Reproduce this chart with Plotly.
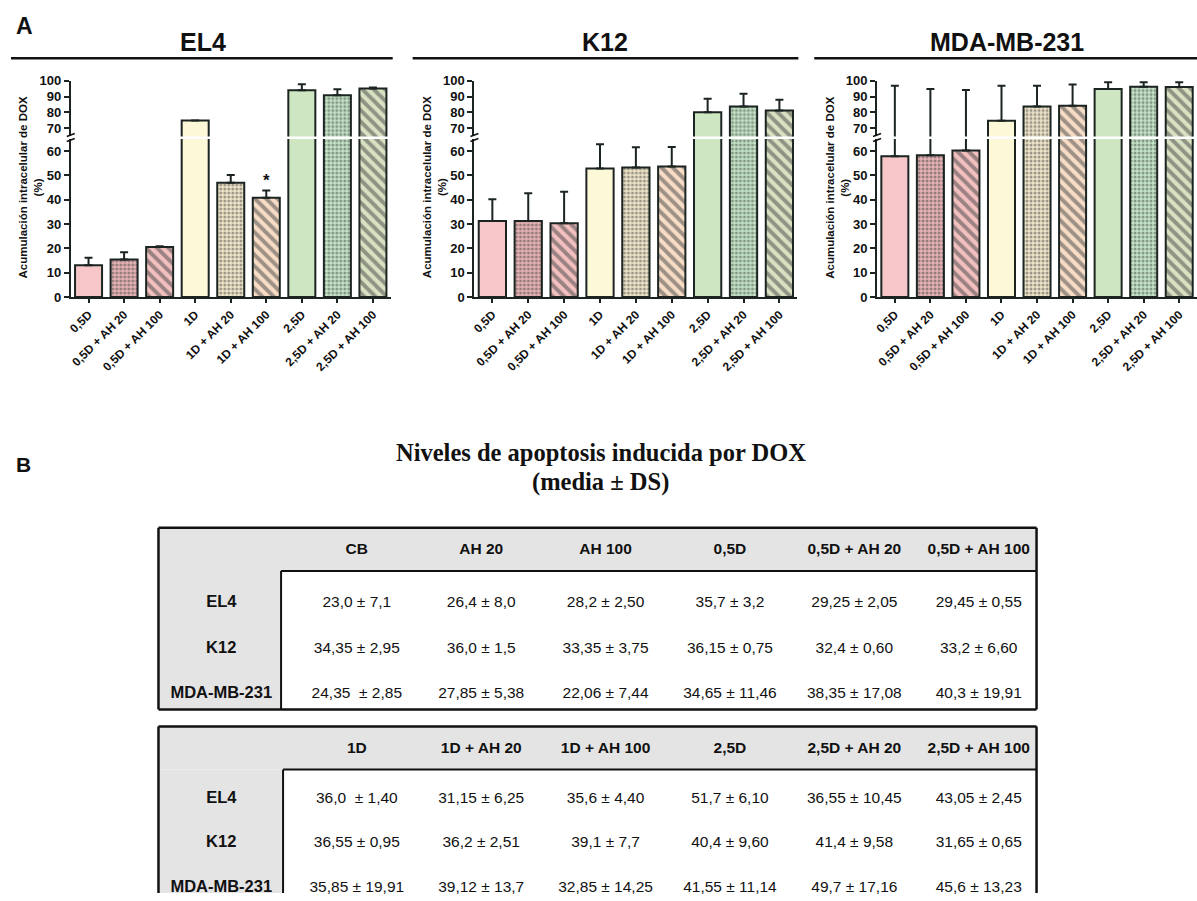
import plotly.graph_objects as go

W, H = 1197, 901
# empirical vertical calibration of the rendered page (target px -> page px)
V_SCALE, V_OFF = 0.98, 8.0


def clip01(v):
    return min(1.0, max(0.0, v))


def fx(px):
    return px / W


def fy(py):
    return 1 - ((py - V_OFF) / V_SCALE) / H


PY_MAX = V_OFF + V_SCALE * H  # lowest drawable target pixel

# ---------------- data (panel A) ----------------
categories = ["0,5D", "0,5D + AH 20", "0,5D + AH 100", "1D", "1D + AH 20",
              "1D + AH 100", "2,5D", "2,5D + AH 20", "2,5D + AH 100"]
el4_mean = [13.1, 15.4, 20.6, 75.0, 47.0, 40.8, 93.9, 90.8, 95.0]
el4_sd = [3.0, 3.0, 0.3, 0.0, 3.2, 3.0, 3.8, 3.7, 0.6]
k12_mean = [31.3, 31.3, 30.3, 52.8, 53.3, 53.7, 80.2, 83.7, 81.2]
k12_sd = [8.9, 11.4, 13.0, 10.0, 8.3, 8.0, 8.4, 8.1, 6.8]
mda_mean = [57.9, 58.3, 60.2, 74.8, 83.7, 84.2, 94.7, 96.1, 96.0]
mda_sd = [38.9, 36.4, 33.9, 22.0, 13.1, 13.3, 4.2, 2.8, 2.9]
panel_names = ["EL4", "K12", "MDA-MB-231"]
lower_ticks = [0, 10, 20, 30, 40, 50, 60]
upper_ticks = [70, 80, 90, 100]

# ---------------- data (panel B) ----------------
cell_lines = ["EL4", "K12", "MDA-MB-231"]
t1_headers = ["CB", "AH 20", "AH 100", "0,5D", "0,5D + AH 20", "0,5D + AH 100"]
t1_cb = ["23,0 ± 7,1", "34,35 ± 2,95", "24,35  ± 2,85"]
t1_ah20 = ["26,4 ± 8,0", "36,0 ± 1,5", "27,85 ± 5,38"]
t1_ah100 = ["28,2 ± 2,50", "33,35 ± 3,75", "22,06 ± 7,44"]
t1_05d = ["35,7 ± 3,2", "36,15 ± 0,75", "34,65 ± 11,46"]
t1_05d_ah20 = ["29,25 ± 2,05", "32,4 ± 0,60", "38,35 ± 17,08"]
t1_05d_ah100 = ["29,45 ± 0,55", "33,2 ± 6,60", "40,3 ± 19,91"]
t2_headers = ["1D", "1D + AH 20", "1D + AH 100", "2,5D", "2,5D + AH 20", "2,5D + AH 100"]
t2_1d = ["36,0  ± 1,40", "36,55 ± 0,95", "35,85 ± 19,91"]
t2_1d_ah20 = ["31,15 ± 6,25", "36,2 ± 2,51", "39,12 ± 13,7"]
t2_1d_ah100 = ["35,6 ± 4,40", "39,1 ± 7,7", "32,85 ± 14,25"]
t2_25d = ["51,7 ± 6,10", "40,4 ± 9,60", "41,55 ± 11,14"]
t2_25d_ah20 = ["36,55 ± 10,45", "41,4 ± 9,58", "49,7 ± 17,16"]
t2_25d_ah100 = ["43,05 ± 2,45", "31,65 ± 0,65", "45,6 ± 13,23"]

# ---------------- styles ----------------
FONT = "Liberation Sans"
DARK = "#1b2421"
TXT = "#111111"
bar_fill = ["#f6c6c8", "#e6b2b4", "#f3c0c0", "#fcf8d8", "#efe5c8",
            "#f7dcc6", "#cfe6c2", "#c4e4c6", "#d8e2c2"]
pat_shape = ["", ".", "\\", "", ".", "\\", "", ".", "\\"]
pat_fg = ["#f6c6c8", "#a0646e", "#2a1010", "#fcf8d8", "#8aa898",
          "#111111", "#cfe6c2", "#2a957c", "#14302a"]
pat_size = [4, 4, 8, 4, 4, 8, 4, 4, 8]
pat_sol = [0.3, 0.45, 0.48, 0.3, 0.45, 0.48, 0.3, 0.45, 0.48]

panels = [
    dict(mean=el4_mean, sd=el4_sd, x0=67, x1=388, line=(7, 390), tx=200, ytx=27),
    dict(mean=k12_mean, sd=k12_sd, x0=472, x1=796, line=(410, 797), tx=603, ytx=432),
    dict(mean=mda_mean, sd=mda_sd, x0=876, x1=1197, line=(813, 1197), tx=1006, ytx=836),
]

low_dom = [fy(297), fy(139.5)]
up_dom = [fy(137), fy(81.3)]

fig = go.Figure()
layout = {}
annotations = []
shapes = []


def ann(text, x, y, size, family=FONT, angle=0, bold=True, xanchor="center"):
    annotations.append(dict(text=text, x=x, y=y, xref="paper", yref="paper",
                            xanchor=xanchor, yanchor="middle", showarrow=False,
                            textangle=angle,
                            font=dict(family=family, size=size, color=TXT,
                                      weight="bold" if bold else "normal")))


def pline(x0, y0, x1, y1, w=2.5):
    shapes.append(dict(type="line", xref="paper", yref="paper",
                       x0=clip01(fx(x0)), y0=clip01(fy(y0)),
                       x1=clip01(fx(x1)), y1=clip01(fy(y1)),
                       line=dict(color=TXT, width=w)))


for i, p in enumerate(panels):
    lo = i + 1
    up = i + 4
    for ax_idx, yrange, ydom, ticks in [(lo, [0, 65], low_dom, lower_ticks),
                                         (up, [65, 100], up_dom, upper_ticks)]:
        xname = "x" if ax_idx == 1 else f"x{ax_idx}"
        yname = "y" if ax_idx == 1 else f"y{ax_idx}"
        fig.add_trace(go.Bar(
            x=list(range(len(categories))), y=p["mean"],
            xaxis=xname, yaxis=yname,
            marker=dict(color=bar_fill,
                        line=dict(color=DARK, width=2),
                        pattern=dict(shape=pat_shape, fgcolor=pat_fg,
                                     size=pat_size, solidity=pat_sol)),
            error_y=dict(type="data", symmetric=False, array=p["sd"],
                         arrayminus=[0] * len(p["sd"]), color=DARK,
                         thickness=2, width=4),
            showlegend=False, hoverinfo="skip",
        ))
        xkey = "xaxis" if ax_idx == 1 else f"xaxis{ax_idx}"
        ykey = "yaxis" if ax_idx == 1 else f"yaxis{ax_idx}"
        is_low = ax_idx == lo
        layout[xkey] = dict(
            domain=[clip01(fx(p["x0"])), clip01(fx(p["x1"]))], range=[-0.5, 8.5],
            anchor=yname, showgrid=False, zeroline=False,
            showline=is_low, linecolor=DARK, linewidth=2,
            ticks="outside" if is_low else "", ticklen=4, tickwidth=1.5,
            tickcolor=DARK,
            tickmode="array", tickvals=list(range(len(categories))),
            ticktext=categories, showticklabels=is_low, tickangle=-45,
            tickfont=dict(family=FONT, size=12, color=TXT, weight="bold"),
        )
        layout[ykey] = dict(
            domain=ydom, range=yrange, anchor=xname, showgrid=False,
            zeroline=False, showline=True, linecolor=DARK, linewidth=2,
            ticks="outside", ticklen=5, tickwidth=2, tickcolor=DARK,
            tickmode="array", tickvals=ticks,
            tickfont=dict(family=FONT, size=13, color=TXT, weight="bold"),
        )
    ann(panel_names[i], fx(p["tx"]), fy(43), 25)
    pline(p["line"][0], 59, p["line"][1], 59)
    ann("Acumulación intracelular de DOX<br>(%)", fx(p["ytx"]), fy(188), 11.5, angle=-90)
    pline(p["x0"] - 4, 137, p["x0"] + 4, 134, 1.5)
    pline(p["x0"] - 4, 142, p["x0"] + 4, 139, 1.5)

annotations.append(dict(text="*", x=5, y=el4_mean[5] + el4_sd[5], xref="x", yref="y",
                        yanchor="bottom", yshift=-2, showarrow=False,
                        font=dict(family=FONT, size=17, color=TXT, weight="bold")))

ann("A", fx(10), fy(27), 23, xanchor="left")
ann("B", fx(10), fy(464), 21, xanchor="left")

ann("Niveles de apoptosis inducida por DOX", fx(599), fy(452), 24.5, family="Liberation Serif")
ann("(media ± DS)", fx(599), fy(481), 24.5, family="Liberation Serif")

# ---------------- tables (text placed on hidden axes) ----------------
GRAY = "#e4e4e4"
COL1_PX, COL_STEP = 354, 124.8
LABEL_PX = 218


def table_block(ax, headers, cols, top, bottom, header_px, row1_px, row_step):
    xname, yname = f"x{ax}", f"y{ax}"

    def x_at(px):
        return 1 + (px - COL1_PX) / COL_STEP

    def r_at(px):
        return 1 + (px - row1_px) / row_step

    bottom_c = min(bottom, PY_MAX)
    layout[f"xaxis{ax}"] = dict(domain=[fx(155), fx(1036)], range=[x_at(155), x_at(1036)],
                                anchor=yname, visible=False, fixedrange=True)
    layout[f"yaxis{ax}"] = dict(domain=[clip01(fy(bottom_c)), fy(top)],
                                range=[r_at(bottom_c), r_at(top)],
                                anchor=xname, visible=False, fixedrange=True)
    ncol = len(headers)
    fig.add_trace(go.Scatter(
        x=list(range(1, ncol + 1)), y=[r_at(header_px)] * ncol, text=headers,
        mode="text", xaxis=xname, yaxis=yname, showlegend=False, hoverinfo="skip",
        cliponaxis=False,
        textfont=dict(family=FONT, size=15.5, color=TXT, weight="bold")))
    fig.add_trace(go.Scatter(
        x=[x_at(LABEL_PX)] * len(cell_lines), y=list(range(1, len(cell_lines) + 1)),
        text=cell_lines, mode="text", xaxis=xname, yaxis=yname, showlegend=False,
        hoverinfo="skip", cliponaxis=False,
        textfont=dict(family=FONT, size=16.5, color=TXT, weight="bold")))
    xs, ys, ts = [], [], []
    for j, col in enumerate(cols):
        for r, v in enumerate(col):
            xs.append(j + 1)
            ys.append(r + 1)
            ts.append(v)
    fig.add_trace(go.Scatter(
        x=xs, y=ys, text=ts, mode="text", xaxis=xname, yaxis=yname, showlegend=False,
        hoverinfo="skip", cliponaxis=False,
        textfont=dict(family=FONT, size=15.5, color=TXT)))


table_block(7, t1_headers, [t1_cb, t1_ah20, t1_ah100, t1_05d, t1_05d_ah20, t1_05d_ah100],
            527, 708, 549, 602, 45.5)
table_block(8, t2_headers, [t2_1d, t2_1d_ah20, t2_1d_ah100, t2_25d, t2_25d_ah20, t2_25d_ah100],
            725, 901, 748, 797, 44.5)


def gray_rect(x0, y0, x1, y1):
    shapes.append(dict(type="rect", xref="paper", yref="paper", layer="below",
                       x0=clip01(fx(x0)), x1=clip01(fx(x1)),
                       y0=clip01(fy(y0)), y1=clip01(fy(y1)),
                       fillcolor=GRAY, line=dict(width=0)))


gray_rect(155, 527, 1036, 570)
gray_rect(155, 570, 278, 708)
pline(155, 527, 1036, 527)
pline(155, 708, 1036, 708)
pline(155, 527, 155, 708)
pline(1036, 527, 1036, 708)
pline(278, 570, 1036, 570, 2)
pline(278, 570, 278, 708, 2)

gray_rect(155, 725, 1036, 768)
gray_rect(155, 768, 280, 910)
pline(155, 725, 1036, 725)
pline(155, 725, 155, 910)
pline(1036, 725, 1036, 910)
pline(280, 768, 1036, 768, 2)
pline(280, 768, 280, 910, 2)

layout.update(dict(
    width=W, height=H, margin=dict(l=0, r=0, t=0, b=0),
    paper_bgcolor="white", plot_bgcolor="rgba(0,0,0,0)",
    bargap=0.24, annotations=annotations, shapes=shapes,
    font=dict(family=FONT),
))
fig.update_layout(**layout)
fig.write_html("out.html", config={"displayModeBar": False},
               post_script="document.body.style.margin='0px';")
